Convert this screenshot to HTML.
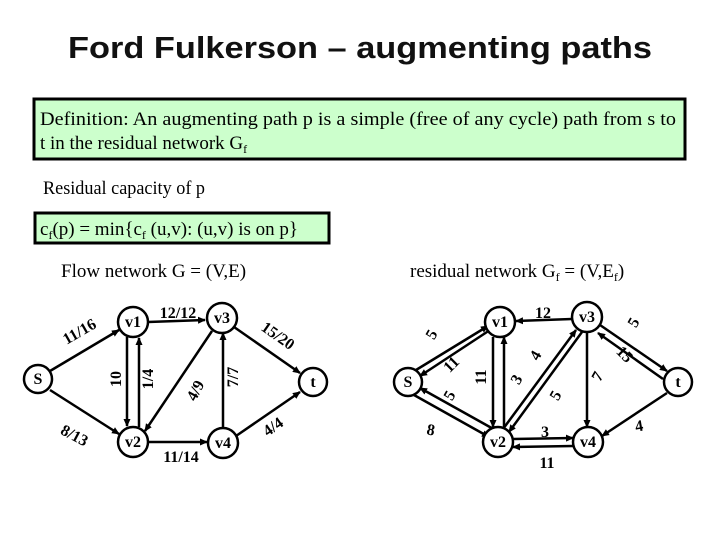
<!DOCTYPE html>
<html><head><meta charset="utf-8"><style>
html,body{margin:0;padding:0;background:#fff;}
svg{display:block;}
.t{font-family:"Liberation Serif",serif;font-size:19px;fill:#000;}
.n{font-family:"Liberation Serif",serif;font-size:16px;font-weight:bold;fill:#000;}
.l{font-family:"Liberation Serif",serif;font-size:16px;font-weight:bold;fill:#000;}
</style></head><body>
<svg width="720" height="540" viewBox="0 0 720 540" xmlns="http://www.w3.org/2000/svg">
<defs><marker id="a" markerWidth="8" markerHeight="8" refX="7" refY="4" orient="auto" markerUnits="userSpaceOnUse"><path d="M0,0.5 L8,4 L0,7.5z" fill="#000"/></marker></defs>
<text x="68" y="58" textLength="584" lengthAdjust="spacingAndGlyphs" font-family="Liberation Sans,sans-serif" font-weight="bold" font-size="31" fill="#111">Ford Fulkerson – augmenting paths</text>
<rect x="34" y="99" width="651" height="60" fill="#ccffcc" stroke="#000" stroke-width="3"/>
<text class="t" x="40" y="125" textLength="636" lengthAdjust="spacingAndGlyphs">Definition: An augmenting path p is a simple (free of any cycle) path from s to</text>
<text class="t" x="40" y="149">t in the residual network G<tspan font-size="12" dy="4">f</tspan></text>
<text class="t" x="43" y="194" textLength="162" lengthAdjust="spacingAndGlyphs">Residual capacity of p</text>
<rect x="35" y="213" width="294" height="30" fill="#ccffcc" stroke="#000" stroke-width="3"/>
<text class="t" x="40" y="235">c<tspan font-size="12" dy="4">f</tspan><tspan dy="-4">(p) = min{c</tspan><tspan font-size="12" dy="4">f</tspan><tspan dy="-4"> (u,v): (u,v) is on p}</tspan></text>
<text class="t" x="61" y="277">Flow network G = (V,E)</text>
<text class="t" x="410" y="277">residual network G<tspan font-size="12" dy="4">f</tspan><tspan dy="-4"> = (V,E</tspan><tspan font-size="12" dy="4">f</tspan><tspan dy="-4">)</tspan></text>

<g stroke="#000" stroke-width="2.5" fill="none" marker-end="url(#a)">
<line x1="50" y1="371" x2="119" y2="330"/>
<line x1="50" y1="390" x2="119" y2="434"/>
<line x1="148" y1="322" x2="205" y2="320"/>
<line x1="127" y1="337" x2="127" y2="426"/>
<line x1="139" y1="427" x2="139" y2="338"/>
<line x1="212" y1="331" x2="145" y2="431"/>
<line x1="148" y1="442" x2="207" y2="442"/>
<line x1="223" y1="428" x2="223" y2="333"/>
<line x1="234" y1="327" x2="300" y2="373"/>
<line x1="236" y1="436" x2="300" y2="392"/>
<line x1="416" y1="370" x2="488" y2="326"/>
<line x1="490" y1="330" x2="420" y2="376"/>
<line x1="497" y1="431" x2="420" y2="388"/>
<line x1="414" y1="395" x2="489" y2="437"/>
<line x1="572" y1="319" x2="516" y2="321"/>
<line x1="493" y1="337" x2="493" y2="427"/>
<line x1="504" y1="427" x2="504" y2="337"/>
<line x1="503" y1="429" x2="576" y2="330"/>
<line x1="582" y1="332" x2="509" y2="432"/>
<line x1="587" y1="333" x2="587" y2="427"/>
<line x1="600" y1="325" x2="667" y2="371"/>
<line x1="663" y1="379" x2="598" y2="333"/>
<line x1="513" y1="439" x2="573" y2="438"/>
<line x1="573" y1="446" x2="513" y2="447"/>
<line x1="667" y1="393" x2="602" y2="436"/>
</g>
<g fill="#fff" stroke="#000" stroke-width="2.5">
<circle cx="38" cy="379" r="14"/><circle cx="133" cy="322" r="15"/><circle cx="222" cy="318" r="15"/>
<circle cx="313" cy="382" r="14"/><circle cx="133" cy="442" r="15"/><circle cx="223" cy="443" r="15"/>
<circle cx="408" cy="382" r="14"/><circle cx="500" cy="322" r="15"/><circle cx="587" cy="317" r="15"/>
<circle cx="678" cy="382" r="14"/><circle cx="498" cy="442" r="15"/><circle cx="588" cy="442" r="15"/>
</g>
<g class="n" text-anchor="middle">
<text x="38" y="384" class="n">S</text><text x="133" y="327" class="n">v1</text><text x="222" y="323" class="n">v3</text>
<text x="313" y="387" class="n">t</text><text x="133" y="447" class="n">v2</text><text x="223" y="448" class="n">v4</text>
<text x="408" y="387" class="n">S</text><text x="500" y="327" class="n">v1</text><text x="587" y="322" class="n">v3</text>
<text x="678" y="387" class="n">t</text><text x="498" y="447" class="n">v2</text><text x="588" y="447" class="n">v4</text>
</g>
<g class="l" text-anchor="middle">
<text transform="translate(82,336) rotate(-30)">11/16</text>
<text transform="translate(72,440) rotate(28)">8/13</text>
<text x="178" y="318">12/12</text>
<text transform="translate(121,379) rotate(-90)">10</text>
<text transform="translate(153,379) rotate(-90)">1/4</text>
<text transform="translate(200,393) rotate(-62)">4/9</text>
<text transform="translate(238,377) rotate(-90)">7/7</text>
<text transform="translate(275,340) rotate(35)">15/20</text>
<text transform="translate(276,431) rotate(-35)">4/4</text>
<text x="181" y="462">11/14</text>
<text transform="translate(436,337) rotate(-60)">5</text>
<text transform="translate(455,368) rotate(-45)">11</text>
<text transform="translate(454,398) rotate(-60)">5</text>
<text x="430" y="435" transform="rotate(10,430,435)">8</text>
<text transform="translate(486,377) rotate(-90)">11</text>
<text transform="translate(521,382) rotate(-60)">3</text>
<text transform="translate(540,358) rotate(-60)">4</text>
<text transform="translate(560,398) rotate(-60)">5</text>
<text x="543" y="318">12</text>
<text transform="translate(602,379) rotate(-60)">7</text>
<text transform="translate(638,325) rotate(-60)">5</text>
<text transform="translate(621,358) rotate(45)">15</text>
<text transform="translate(640,431) rotate(-10)">4</text>
<text x="545" y="437">3</text>
<text x="547" y="468">11</text>
</g>
</svg>
</body></html>
